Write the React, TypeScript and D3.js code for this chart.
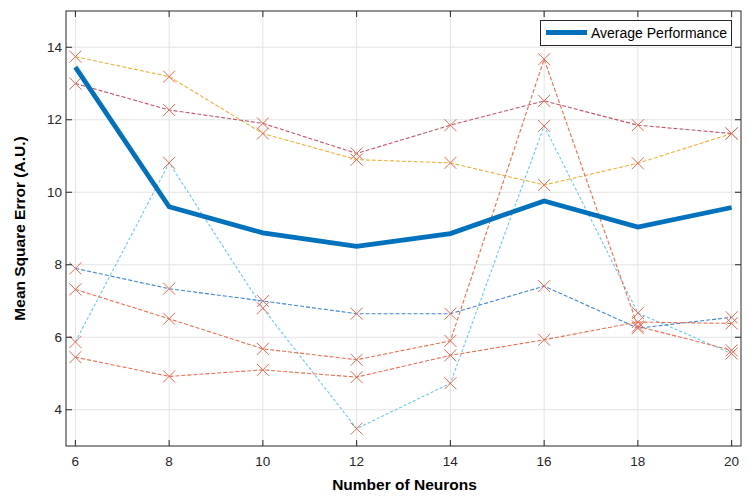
import React from "react";
import * as d3 from "d3";

const neurons = [6, 8, 10, 12, 14, 16, 18, 20];
const average = [13.45, 9.6, 8.88, 8.51, 8.86, 9.76, 9.04, 9.58];

const runYellow = [13.74, 13.19, 11.62, 10.9, 10.81, 10.2, 10.8, 11.62];
const runDarkRed = [13.0, 12.27, 11.9, 11.07, 11.85, 12.52, 11.85, 11.62];
const runCyan = [5.87, 10.81, 6.8, 3.48, 4.73, 11.83, 6.67, 5.55];
const runBlue = [7.9, 7.34, 7.0, 6.65, 6.65, 7.41, 6.25, 6.55];
const runRed = [7.32, 6.51, 5.68, 5.38, 5.9, 13.67, 6.3, 5.64];
const runRedLow = [5.45, 4.92, 5.1, 4.9, 5.5, 5.93, 6.42, 6.38];

const xTicks = [6, 8, 10, 12, 14, 16, 18, 20];
const yTicks = [4, 6, 8, 10, 12, 14];

const runs = [
  { values: runYellow, color: "#eeb13a", dash: "4,2" },
  { values: runDarkRed, color: "#c4566a", dash: "4,2" },
  { values: runCyan, color: "#6cc8f0", dash: "3,2" },
  { values: runBlue, color: "#3f86d6", dash: "4,2" },
  { values: runRed, color: "#ec6f50", dash: "4,2" },
  { values: runRedLow, color: "#ec6f50", dash: "4,2" },
];

const W = 750;
const H = 498;
const left = 66;
const right = 741;
const top = 11;
const bottom = 446;

export default function App() {
  const x = d3.scaleLinear().domain([5.8, 20.2]).range([left, right]);
  const y = d3.scaleLinear().domain([3, 15]).range([bottom, top]);

  const line = (vals: number[]) =>
    d3
      .line<number>()
      .x((_, i) => x(neurons[i]))
      .y((d) => y(d))(vals) || "";

  const tick = 6;
  const font = "'Liberation Sans', Arial, Helvetica, sans-serif";
  const mk = 6;

  return (
    <svg
      width={W}
      height={H}
      style={{ position: "absolute", left: 0, top: 0, background: "#fff" }}
      fontFamily={font}
    >
      {/* grid */}
      {xTicks.map((t) => (
        <line key={"gx" + t} x1={x(t)} x2={x(t)} y1={top} y2={bottom} stroke="#e3e3e3" strokeWidth={1} />
      ))}
      {yTicks.map((t) => (
        <line key={"gy" + t} x1={left} x2={right} y1={y(t)} y2={y(t)} stroke="#e3e3e3" strokeWidth={1} />
      ))}

      {/* individual runs */}
      {runs.map((r, k) => (
        <path key={"r" + k} d={line(r.values)} fill="none" stroke={r.color} strokeWidth={1.1} strokeDasharray={r.dash} />
      ))}

      {/* markers */}
      {runs.map((r, k) =>
        r.values.map((v, i) => (
          <g key={"m" + k + "-" + i} stroke="#ea6a4f" strokeWidth={1}>
            <line x1={x(neurons[i]) - mk} x2={x(neurons[i]) + mk} y1={y(v) - mk} y2={y(v) + mk} />
            <line x1={x(neurons[i]) - mk} x2={x(neurons[i]) + mk} y1={y(v) + mk} y2={y(v) - mk} />
          </g>
        ))
      )}

      {/* average */}
      <path d={line(average)} fill="none" stroke="#0072bd" strokeWidth={4.8} strokeLinejoin="miter" />

      {/* axes box */}
      <rect x={left} y={top} width={right - left} height={bottom - top} fill="none" stroke="#262626" strokeWidth={1} />
      {xTicks.map((t) => (
        <g key={"tx" + t} stroke="#262626">
          <line x1={x(t)} x2={x(t)} y1={bottom} y2={bottom - tick} />
          <line x1={x(t)} x2={x(t)} y1={top} y2={top + tick} />
        </g>
      ))}
      {yTicks.map((t) => (
        <g key={"ty" + t} stroke="#262626">
          <line x1={left} x2={left + tick} y1={y(t)} y2={y(t)} />
          <line x1={right} x2={right - tick} y1={y(t)} y2={y(t)} />
        </g>
      ))}

      {/* tick labels */}
      {xTicks.map((t) => (
        <text key={"lx" + t} x={x(t)} y={466} textAnchor="middle" fontSize={13.5} fill="#262626">
          {t}
        </text>
      ))}
      {yTicks.map((t) => (
        <text key={"ly" + t} x={left - 4} y={y(t) + 4.5} textAnchor="end" fontSize={13.5} fill="#262626">
          {t}
        </text>
      ))}

      {/* axis labels */}
      <text x={(left + right) / 2 + 1} y={490} textAnchor="middle" fontSize={15.5} fontWeight="bold" fill="#000">
        Number of Neurons
      </text>
      <text
        transform={`translate(25,${(top + bottom) / 2}) rotate(-90)`}
        textAnchor="middle"
        fontSize={15.5}
        fontWeight="bold"
        fill="#000"
      >
        Mean Square Error (A.U.)
      </text>

      {/* legend */}
      <rect x={540.5} y={20.5} width={191} height={25} fill="#fff" stroke="#262626" strokeWidth={1} />
      <line x1={546} x2={587} y1={32.5} y2={32.5} stroke="#0072bd" strokeWidth={4.8} />
      <text x={591} y={38} fontSize={14} fill="#000">
        Average Performance
      </text>
    </svg>
  );
}
